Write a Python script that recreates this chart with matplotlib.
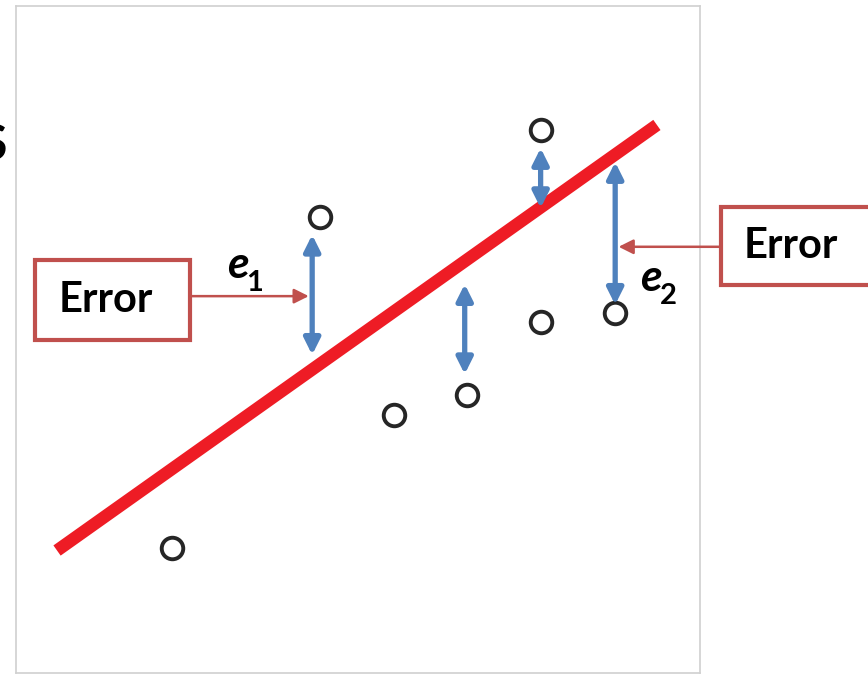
import numpy as np
import matplotlib.pyplot as plt

# data (axes units 0..10)
pt_x = [2.28, 4.44, 5.52, 6.60, 7.67, 7.67, 8.76]
pt_y = [1.87, 6.84, 3.87, 4.17, 8.14, 5.26, 5.40]

fit_slope = 0.7275
fit_intercept = 1.40
fit_x = [0.60, 9.37]

# residual arrows: x, top, bottom
res_x = [4.33, 6.56, 7.67, 8.76]
res_top = [6.57, 5.83, 7.87, 7.66]
res_bot = [4.77, 4.48, 6.97, 5.52]

RED = "#C0504D"
BLUE = "#4F81BD"
LINE = "#EE1C25"
FONT = "Lato"

W, H = 868, 678
fig = plt.figure(figsize=(W / 100, H / 100), dpi=100)
ax = fig.add_axes([16 / W, 5 / H, 684 / W, 667 / H])
ax.set_xlim(0, 10)
ax.set_ylim(0, 10)
ax.set_xticks([])
ax.set_yticks([])
for s in ax.spines.values():
    s.set_color("#d0d0d0")
    s.set_linewidth(1.2)

fx = np.array(fit_x)
ax.plot(fx, fit_intercept + fit_slope * fx, color=LINE, lw=9,
        solid_capstyle="butt", zorder=2)

ax.plot(pt_x, pt_y, "o", ms=15.5, mfc="white", mec="#262626", mew=2.8, zorder=3)

for x, t, b in zip(res_x, res_top, res_bot):
    ax.annotate("", xy=(x, t), xytext=(x, b),
                arrowprops=dict(arrowstyle="<|-|>", color=BLUE, lw=3.8,
                                mutation_scale=24, shrinkA=0, shrinkB=0),
                zorder=4)

# error callouts
def callout(x0, x1, y0, y1, ty, tx_end, tx):
    ax.add_patch(plt.Rectangle((x0, y0), x1 - x0, y1 - y0, fill=True,
                               facecolor="white", edgecolor=RED, lw=3,
                               clip_on=False, zorder=5))
    ax.text(tx, (y0 + y1) / 2, "Error",
            ha="center", va="center", fontsize=30, fontweight="bold",
            family=FONT, color="black", zorder=6, clip_on=False)
    start = x1 if tx_end > x1 else x0
    ax.annotate("", xy=(tx_end, ty), xytext=(start, ty),
                arrowprops=dict(arrowstyle="-|>", color=RED, lw=1.8,
                                mutation_scale=22, shrinkA=0, shrinkB=0),
                annotation_clip=False, zorder=5)

callout(0.28, 2.55, 4.99, 6.19, 5.65, res_x[0] - 0.05, 1.32)
callout(10.31, 12.6, 5.82, 6.99, 6.39, res_x[3] + 0.05, 11.33)

# e labels
def elabel(x, y, sub):
    ax.text(x, y, "e", fontsize=32, fontweight="bold", style="italic",
            family=FONT, ha="left", va="baseline", zorder=6)
    ax.text(x + 0.29, y - 0.2, sub, fontsize=21, fontweight="bold",
            family=FONT, ha="left", va="baseline", zorder=6)

elabel(3.08, 5.92, "1")
elabel(9.13, 5.73, "2")

fig.text(7 / W, 1 - 145 / H, "S", fontsize=36, family=FONT,
         fontweight="bold", ha="right", va="center")

fig.savefig("out.png", dpi=100)
